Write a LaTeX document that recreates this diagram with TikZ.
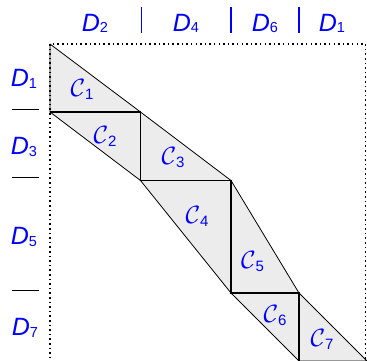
\RequirePackage{fix-cm}
\documentclass[tikz,border=0pt]{standalone}
\usepackage{fontspec}
\setmainfont{Liberation Sans}
\newcommand{\Dlab}[1]{{\fontsize{25}{30}\selectfont\itshape D}\raisebox{-1.7pt}{\fontsize{14.5}{16}\selectfont #1}}
\newcommand{\Clab}[1]{{\fontsize{25}{30}\selectfont$\mathcal{C}$}\raisebox{-3pt}{\fontsize{15}{17}\selectfont #1}}
\begin{document}
\begin{tikzpicture}[x=1pt,y=-1pt,
  tri/.style={draw=black, line width=0.8pt, line join=round},
  trifill/.style={fill=gray!15},
  stair/.style={draw=black, line width=1.4pt, line join=miter},
  frame/.style={draw=black, line width=1.5pt, dash pattern=on 1.5pt off 3.1pt},
  lab/.style={text=blue, inner sep=0pt},
  sepline/.style={draw=blue, line width=1.4pt},
  dashline/.style={draw=black, line width=1.7pt}]
\useasboundingbox (0,0) rectangle (367,360);
\coordinate (p0) at (50,44);
\coordinate (p1) at (50,112);
\coordinate (p2) at (140.5,112);
\coordinate (p3) at (140.5,180.5);
\coordinate (p4) at (231,180.5);
\coordinate (p5) at (231,293);
\coordinate (p6) at (299,293);
\coordinate (p7) at (299,361);
\coordinate (p8) at (367,361);
\coordinate (fa) at (50,44);
\coordinate (fb) at (365.5,400);
\begin{scope}
\clip (0,0) rectangle (367,360);
\fill[trifill] (p0) -- (p2) -- (p4) -- (p6) -- (p8) -- (p7) -- (p5) -- (p3) -- (p1) -- cycle;
\draw[frame] (fa) rectangle (fb);
\draw[tri] (p0) -- (p1) -- (p2) -- cycle;
\draw[tri] (p1) -- (p2) -- (p3) -- cycle;
\draw[tri] (p2) -- (p3) -- (p4) -- cycle;
\draw[tri] (p3) -- (p4) -- (p5) -- cycle;
\draw[tri] (p4) -- (p5) -- (p6) -- cycle;
\draw[tri] (p5) -- (p6) -- (p7) -- cycle;
\draw[tri] (p6) -- (p7) -- (p8) -- cycle;
\draw[stair] (p1) -- (p2) -- (p3) -- (p4) -- (p5) -- (p6) -- (p7);
\end{scope}
% cell labels
\node[lab] (c1) at (82,89) {\Clab{1}};
\node[lab] (c2) at (105,136) {\Clab{2}};
\node[lab] (c3) at (173,158) {\Clab{3}};
\node[lab] (c4) at (197,216) {\Clab{4}};
\node[lab] (c5) at (252.5,262) {\Clab{5}};
\node[lab] (c6) at (275,316) {\Clab{6}};
\node[lab] (c7) at (322,339) {\Clab{7}};
% top labels
\node[lab] (t2) at (95,23.5) {\Dlab{2}};
\node[lab] (t4) at (186,23.5) {\Dlab{4}};
\node[lab] (t6) at (265,23.5) {\Dlab{6}};
\node[lab] (t1) at (332,23.5) {\Dlab{1}};
\coordinate (s1a) at (141.5,7); \coordinate (s1b) at (141.5,33);
\coordinate (s2a) at (231,7); \coordinate (s2b) at (231,33);
\coordinate (s3a) at (299,7); \coordinate (s3b) at (299,33);
\draw[sepline] (s1a) -- (s1b);
\draw[sepline] (s2a) -- (s2b);
\draw[sepline] (s3a) -- (s3b);
% left labels
\node[lab] (l1) at (24,79) {\Dlab{1}};
\node[lab] (l3) at (24,147) {\Dlab{3}};
\node[lab] (l5) at (24,237) {\Dlab{5}};
\node[lab] (l7) at (25,328) {\Dlab{7}};
\coordinate (d1a) at (12,109.5); \coordinate (d1b) at (39,109.5);
\coordinate (d2a) at (12,177.5); \coordinate (d2b) at (39,177.5);
\coordinate (d3a) at (12,290.5); \coordinate (d3b) at (39,290.5);
\draw[dashline] (d1a) -- (d1b);
\draw[dashline] (d2a) -- (d2b);
\draw[dashline] (d3a) -- (d3b);
\end{tikzpicture}
\end{document}
